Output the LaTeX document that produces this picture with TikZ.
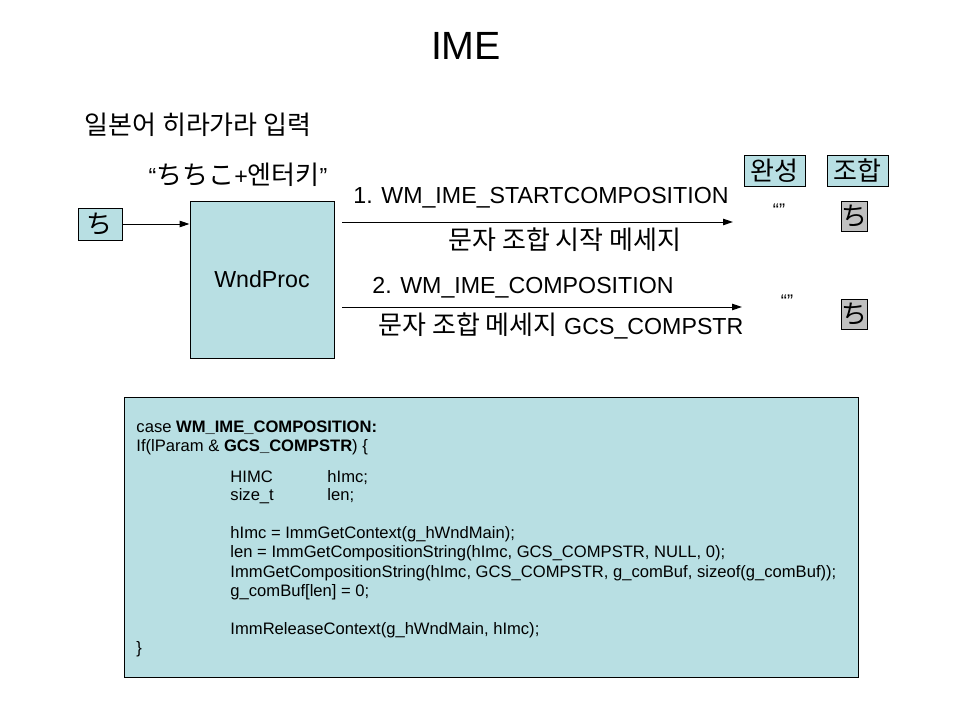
\documentclass[tikz,border=0pt]{standalone}
\usepackage{fontspec}
\setmainfont{Liberation Sans}
\newfontfamily\kr{Noto Sans CJK KR}
\usetikzlibrary{positioning,calc,arrows.meta}
\definecolor{paleblue}{HTML}{B8DFE3}
\definecolor{chargray}{HTML}{C0C0C0}
\newlength\px
\setlength\px{0.025cm}
\newcommand\slidefont{\fontsize{16.5pt}{20pt}\selectfont}
\newcommand\krtext{\kr\fontsize{18.5pt}{22pt}\selectfont}
\newcommand\codefont{\fontsize{11.8pt}{13.5pt}\selectfont}

\begin{document}
\begin{tikzpicture}[x=0.025cm,y=-0.025cm,line width=0.7pt,
  bluebox/.style={draw,fill=paleblue,inner sep=0pt,font=\krtext},
  graybox/.style={draw,fill=chargray,inner sep=0pt,font=\krtext,minimum width=24\px,minimum height=30\px},
  lbl/.style={inner sep=0pt,font=\slidefont},
  quotes/.style={inner sep=0pt,font=\fontsize{13pt}{13pt}\selectfont},
  codeline/.style={anchor=base west,inner sep=0pt,font=\codefont},
  msg/.style={-{Triangle[length=7pt,width=4.5pt]}}]
\fill[white] (0,0) rectangle (960,720);
\useasboundingbox (0,0) rectangle (960,720);

\node[inner sep=0pt,font=\fontsize{28pt}{32pt}\selectfont] (title) at (466,46) {IME};
\node[lbl,font=\krtext] (input) at (198,125) {일본어 히라가라 입력};
\node[lbl] (keys) at (238,175) {“{\krtext ちちこ}+{\krtext 엔터키}”};

% input char and window procedure
\node[bluebox,minimum width=44\px,minimum height=32\px] (chi) at (100,224) {ち};
\node[bluebox,font=\slidefont,minimum width=144\px,minimum height=157\px] (wnd) at (262,279.5) {WndProc};
\draw[msg] (chi.east) -- (chi.east -| wnd.west);

% messages
\coordinate (s1) at (342,222);
\coordinate (e1) at (733,222);
\coordinate (s2) at (342,307);
\coordinate (e2) at (742,307);
\draw[msg] (s1) -- (e1);
\draw[msg] (s2) -- (e2);
\node[lbl] (m1) at (541,198) {1. WM\_IME\_STARTCOMPOSITION};
\node[lbl,font=\krtext] (m1k) at (565,240) {문자 조합 시작 메세지};
\node[lbl] (m2) at (523,288) {2. WM\_IME\_COMPOSITION};
\node[lbl] (m2k) at (561,326) {{\krtext 문자 조합 메세지} GCS\_COMPSTR};

% result columns
\node[bluebox,minimum width=61\px,minimum height=31\px] (done) at (774.5,170.5) {완성};
\node[bluebox,minimum width=61\px,minimum height=31\px] (comp) at (857.5,170.5) {조합};
\node[quotes] (q1) at (779,210) {“”};
\node[quotes] (q2) at (787,301) {“”};
\node[graybox] (g1) at (854,216) {ち};
\node[graybox] (g2) at (854,314) {ち};

% code
\node[draw,fill=paleblue,minimum width=734\px,minimum height=280\px] (code) at (491,537) {};
\node[codeline] (c1) at (136,433) {case \textbf{WM\_IME\_COMPOSITION:}};
\node[codeline] (c2) at (136,452) {If(lParam \& \textbf{GCS\_COMPSTR}) \{};
\node[codeline] (c3) at (230,483) {HIMC};
\node[codeline] (c3b) at (327,483) {hImc;};
\node[codeline] (c4) at (230,501) {size\_t};
\node[codeline] (c4b) at (327,501) {len;};
\node[codeline] (c5) at (230,539) {hImc = ImmGetContext(g\_hWndMain);};
\node[codeline] (c6) at (230,558) {len = ImmGetCompositionString(hImc, GCS\_COMPSTR, NULL, 0);};
\node[codeline] (c7) at (230,577) {ImmGetCompositionString(hImc, GCS\_COMPSTR, g\_comBuf, sizeof(g\_comBuf));};
\node[codeline] (c8) at (230,596) {g\_comBuf[len] = 0;};
\node[codeline] (c9) at (230,634) {ImmReleaseContext(g\_hWndMain, hImc);};
\node[codeline] (c10) at (136,653) {\}};
\end{tikzpicture}
\end{document}
